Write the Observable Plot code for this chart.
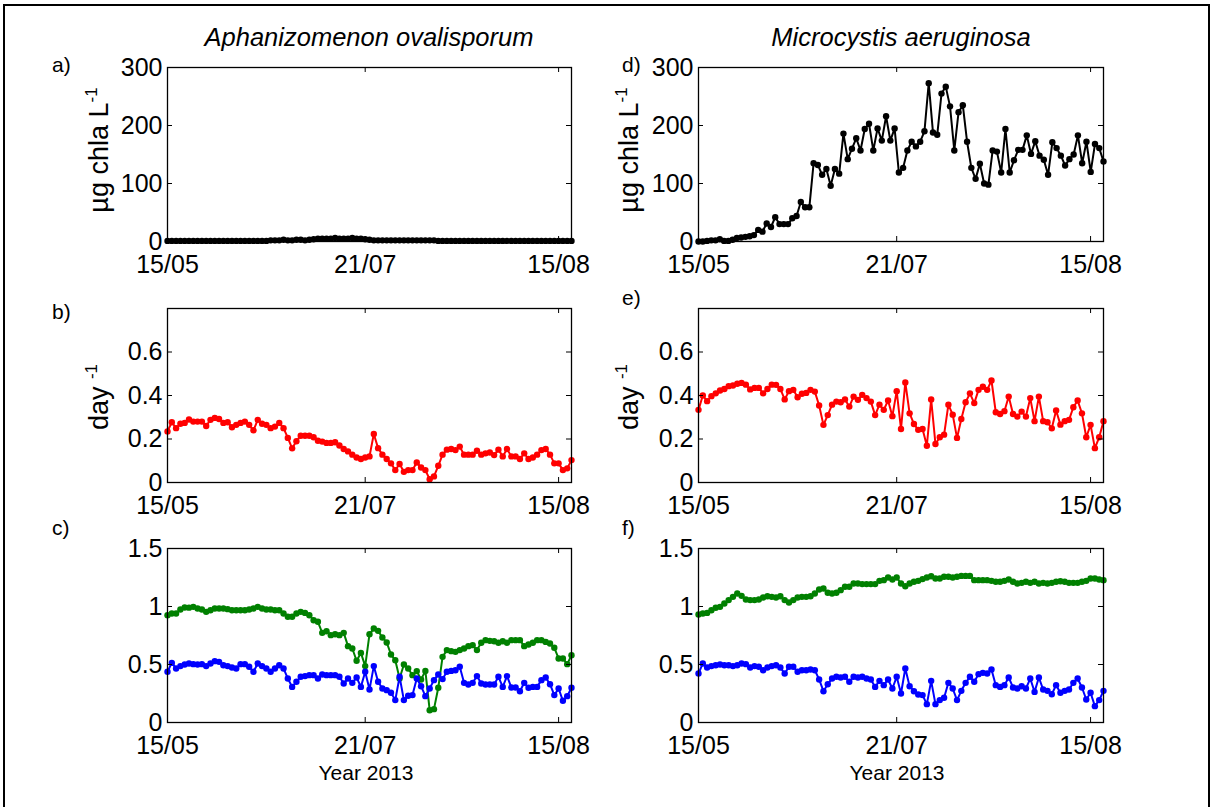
<!DOCTYPE html>
<html>
<head>
<meta charset="utf-8">
<script src="https://cdn.jsdelivr.net/npm/d3@7"></script>
<script src="https://cdn.jsdelivr.net/npm/@observablehq/plot@0.6"></script>
<style>
  html, body { margin: 0; padding: 0; background: #fff; overflow: hidden; }
  #fig { position: relative; width: 1214px; height: 807px; overflow: hidden; font-family: "Liberation Sans", Arial, sans-serif; color: #000; }
  #border { position: absolute; left: 3px; top: 4px; width: 1207px; height: 820px; border: 2px solid #000; box-sizing: border-box; }
  .panel { position: absolute; }
  .txt { position: absolute; white-space: nowrap; line-height: 1; }
  .title { font-size: 25.5px; font-style: italic; transform: translateX(-50%); }
  .letter { font-size: 21px; }
  .ytitle { font-size: 27px; transform: translate(-50%, -50%) rotate(-90deg); }
  .xtitle { font-size: 21px; transform: translateX(-50%); }
  sup { font-size: 17px; vertical-align: 11px; line-height: 0; }
</style>
</head>
<body>
<div id="fig">
  <div id="border"></div>
</div>
<script>
// ---- Tick labels / axis settings ----
const xTicks = [0, 46, 91];
const xTickLabels = ["15/05", "21/07", "15/08"];
const xMax = 94;
const biomassTicks = [0, 100, 200, 300];
const growthTicks = [0, 0.2, 0.4, 0.6];
const ratioTicks = [0, 0.5, 1, 1.5];

// ---- Data ----
// a) Aphanizomenon ovalisporum biomass (µg chla L-1)
const aphBiomass = [1,1,1,1,1,1,1,1,1,1,1,1,1,1,1,1,1,1,1,1,1,1,1,1,
  2,2,2,3,2,2,3,3,2,3,
  4,5,5,5,5,6,5,5,5,6,5,5,4,
  3,2,2,2,2,2,2,2,2,2,2,2,2,2,2,2,
  1,1,1,1,1,1,1,1,1,1,1,1,1,1,1,1,1,1,1,1,1,1,1,1,1,1,1,1,1,1,1,1];
// d) Microcystis aeruginosa biomass
const micBiomass = [0,0,1,2,2,4,1,1,3,6,7,8,9,11,20,17,31,25,42,30,30,30,40,44,68,59,59,135,132,115,125,96,125,117,186,142,160,178,157,194,203,157,195,174,216,174,195,
  119,127,157,172,164,172,190,273,188,184,255,267,233,157,223,235,172,127,108,134,100,98,157,155,119,194,119,140,158,158,183,151,173,148,141,115,171,161,148,131,142,150,183,135,172,120,168,161,138];
// b) Aphanizomenon growth rate (day-1)
const aphGrowth = [0.235,0.277,0.25,0.27,0.274,0.29,0.28,0.28,0.28,0.26,0.288,0.297,0.292,0.274,0.277,0.254,0.265,0.274,0.28,0.265,0.24,0.288,0.27,0.265,0.25,0.257,0.274,0.25,0.205,0.157,0.19,0.215,0.215,0.215,0.208,0.192,0.188,0.182,0.182,0.185,0.17,0.154,0.143,0.128,0.115,0.108,0.115,
  0.12,0.223,0.158,0.128,0.108,0.088,0.057,0.085,0.049,0.057,0.057,0.092,0.069,0.057,0.015,0.028,0.077,0.128,0.151,0.154,0.149,0.165,0.128,0.128,0.128,0.146,0.128,0.134,0.138,0.126,0.151,0.12,0.154,0.12,0.12,0.108,0.134,0.108,0.115,0.128,0.149,0.154,0.128,0.088,0.088,0.057,0.065,0.103];
// e) Microcystis growth rate
const micGrowth = [0.334,0.4,0.374,0.397,0.41,0.423,0.43,0.443,0.446,0.454,0.458,0.45,0.428,0.435,0.435,0.41,0.43,0.45,0.449,0.43,0.382,0.42,0.426,0.392,0.408,0.412,0.426,0.418,0.354,0.265,0.31,0.358,0.372,0.369,0.382,0.349,0.395,0.38,0.403,0.388,0.372,0.31,0.358,0.334,0.377,0.305,0.42,0.246,0.46,
  0.318,0.269,0.242,0.246,0.169,0.382,0.177,0.208,0.22,0.358,0.312,0.205,0.292,0.369,0.41,0.365,0.426,0.44,0.426,0.469,0.323,0.315,0.328,0.395,0.315,0.303,0.326,0.303,0.388,0.282,0.395,0.282,0.277,0.249,0.331,0.266,0.282,0.288,0.346,0.377,0.318,0.208,0.265,0.158,0.208,0.282];
// c) Aphanizomenon – green and blue series
const aphGreen = [0.925,0.94,0.94,0.974,0.991,0.99,0.997,0.983,0.974,0.954,0.968,0.983,0.983,0.983,0.977,0.968,0.968,0.968,0.968,0.974,0.983,0.997,0.983,0.974,0.974,0.968,0.968,0.94,0.911,0.911,0.94,0.954,0.945,0.925,0.882,0.868,0.773,0.787,0.753,0.761,0.753,0.773,0.658,0.638,0.532,0.6,0.486,0.761,0.81,
  0.79,0.733,0.69,0.586,0.537,0.379,0.5,0.466,0.408,0.443,0.371,0.445,0.106,0.115,0.299,0.566,0.624,0.615,0.609,0.624,0.638,0.658,0.667,0.624,0.687,0.71,0.704,0.701,0.687,0.701,0.687,0.71,0.71,0.71,0.658,0.672,0.687,0.71,0.71,0.695,0.681,0.644,0.552,0.552,0.503,0.58];
const aphBlue = [0.437,0.514,0.466,0.486,0.5,0.509,0.503,0.5,0.503,0.486,0.509,0.529,0.523,0.494,0.486,0.474,0.466,0.503,0.503,0.48,0.437,0.509,0.486,0.466,0.437,0.466,0.494,0.466,0.379,0.307,0.351,0.394,0.4,0.408,0.408,0.379,0.414,0.408,0.408,0.408,0.394,0.336,0.379,0.342,0.388,0.307,0.437,0.284,0.486,
  0.351,0.293,0.279,0.256,0.193,0.394,0.193,0.23,0.236,0.379,0.313,0.227,0.293,0.365,0.414,0.374,0.437,0.445,0.451,0.48,0.342,0.328,0.342,0.4,0.336,0.328,0.328,0.328,0.394,0.307,0.4,0.302,0.302,0.27,0.342,0.299,0.307,0.307,0.365,0.388,0.33,0.236,0.293,0.187,0.227,0.299];
// f) Microcystis – green and blue series
const micGreen = [0.931,0.94,0.945,0.968,0.989,0.997,1.026,1.055,1.083,1.112,1.092,1.06,1.055,1.055,1.06,1.078,1.089,1.083,1.078,1.089,1.055,1.034,1.055,1.078,1.083,1.083,1.089,1.112,1.147,1.155,1.118,1.112,1.118,1.141,1.17,1.17,1.198,1.198,1.193,1.193,1.193,1.193,1.221,1.227,1.25,1.233,1.25,
  1.198,1.175,1.198,1.213,1.221,1.236,1.25,1.261,1.241,1.241,1.256,1.256,1.25,1.256,1.264,1.264,1.264,1.227,1.227,1.227,1.227,1.221,1.213,1.213,1.221,1.233,1.213,1.198,1.204,1.213,1.204,1.213,1.198,1.204,1.198,1.204,1.213,1.218,1.213,1.204,1.204,1.204,1.213,1.221,1.241,1.241,1.233,1.227];
const micBlue = [0.422,0.509,0.474,0.486,0.494,0.5,0.494,0.494,0.486,0.494,0.509,0.503,0.474,0.486,0.48,0.451,0.474,0.486,0.494,0.474,0.422,0.48,0.48,0.437,0.451,0.451,0.457,0.451,0.371,0.27,0.33,0.379,0.394,0.388,0.394,0.351,0.394,0.388,0.394,0.379,0.371,0.307,0.359,0.322,0.371,0.293,
  0.394,0.25,0.466,0.313,0.27,0.241,0.236,0.158,0.359,0.158,0.193,0.213,0.342,0.293,0.193,0.273,0.342,0.394,0.351,0.417,0.428,0.422,0.457,0.322,0.307,0.322,0.388,0.302,0.293,0.313,0.293,0.379,0.264,0.388,0.284,0.273,0.244,0.322,0.256,0.273,0.284,0.342,0.379,0.302,0.198,0.256,0.141,0.193,0.273];

// ---- Layout ----
const FONT = '"Liberation Sans", Arial, sans-serif';
const boxH = 174;
const colLeft = [167, 697.5];
const colW = [404, 405];
const rowTop = [67, 308, 548];
const mL = 100, mT = 20, mR = 15, mB = 45;

function toRows(values) {
  const n = values.length;
  return values.map((v, i) => ({ x: i * xMax / (n - 1), y: v }));
}

function panel(col, row, series, yDomain, yTicks) {
  const W = colW[col];
  const marks = [];
  for (const s of series) {
    const rows = toRows(s.values);
    marks.push(Plot.line(rows, { x: "x", y: "y", stroke: s.color, strokeWidth: 2 }));
    marks.push(Plot.dot(rows, { x: "x", y: "y", r: 3.2, fill: s.color, stroke: "none" }));
  }
  marks.push(Plot.frame({ stroke: "black", strokeWidth: 1.3 }));
  // inward ticks on all four sides
  marks.push(Plot.tickX(xTicks, { x: d => d, insetTop: boxH - 5, stroke: "black" }));
  marks.push(Plot.tickX(xTicks, { x: d => d, insetBottom: boxH - 5, stroke: "black" }));
  marks.push(Plot.tickY(yTicks, { y: d => d, insetRight: W - 5, stroke: "black" }));
  marks.push(Plot.tickY(yTicks, { y: d => d, insetLeft: W - 5, stroke: "black" }));
  marks.push(Plot.axisX({ ticks: xTicks, tickSize: 0, tickPadding: 14, label: null,
    tickFormat: d => xTickLabels[xTicks.indexOf(d)] }));
  marks.push(Plot.axisY({ ticks: yTicks, tickSize: 0, tickPadding: 5, label: null,
    tickFormat: d => String(d) }));
  const svg = Plot.plot({
    width: mL + W + mR,
    height: mT + boxH + mB,
    marginLeft: mL, marginRight: mR, marginTop: mT, marginBottom: mB,
    x: { domain: [0, xMax] },
    y: { domain: yDomain },
    style: { fontFamily: FONT, fontSize: "25px", color: "black", background: "transparent", overflow: "visible" },
    marks
  });
  const wrap = document.createElement("div");
  wrap.className = "panel";
  wrap.style.left = (colLeft[col] - mL) + "px";
  wrap.style.top = (rowTop[row] - mT) + "px";
  wrap.appendChild(svg);
  document.getElementById("fig").appendChild(wrap);
}

panel(0, 0, [{ values: aphBiomass, color: "black" }], [0, 300], biomassTicks);
panel(1, 0, [{ values: micBiomass, color: "black" }], [0, 300], biomassTicks);
panel(0, 1, [{ values: aphGrowth, color: "#ff0000" }], [0, 0.8], growthTicks);
panel(1, 1, [{ values: micGrowth, color: "#ff0000" }], [0, 0.8], growthTicks);
panel(0, 2, [{ values: aphGreen, color: "#008000" }, { values: aphBlue, color: "#0000ff" }], [0, 1.5], ratioTicks);
panel(1, 2, [{ values: micGreen, color: "#008000" }, { values: micBlue, color: "#0000ff" }], [0, 1.5], ratioTicks);

// ---- Text ----
const texts = [
  { cls: "title", html: "Aphanizomenon ovalisporum", x: 369, y: 25 },
  { cls: "title", html: "Microcystis aeruginosa", x: 901, y: 25 },
  { cls: "letter", html: "a)", x: 52, y: 54 },
  { cls: "letter", html: "d)", x: 622, y: 54 },
  { cls: "letter", html: "b)", x: 52, y: 301 },
  { cls: "letter", html: "e)", x: 622, y: 287 },
  { cls: "letter", html: "c)", x: 52, y: 517 },
  { cls: "letter", html: "f)", x: 622, y: 517 },
  { cls: "ytitle", html: "µg chla L<sup>-1</sup>", x: 99, y: 150 },
  { cls: "ytitle", html: "µg chla L<sup>-1</sup>", x: 629, y: 150 },
  { cls: "ytitle", html: "day <sup>-1</sup>", x: 99, y: 397 },
  { cls: "ytitle", html: "day <sup>-1</sup>", x: 629, y: 397 },
  { cls: "xtitle", html: "Year 2013", x: 366, y: 762 },
  { cls: "xtitle", html: "Year 2013", x: 897, y: 762 }
];
for (const t of texts) {
  const d = document.createElement("div");
  d.className = "txt " + t.cls;
  d.innerHTML = t.html;
  d.style.left = t.x + "px";
  d.style.top = t.y + "px";
  document.getElementById("fig").appendChild(d);
}
</script>
</body>
</html>
